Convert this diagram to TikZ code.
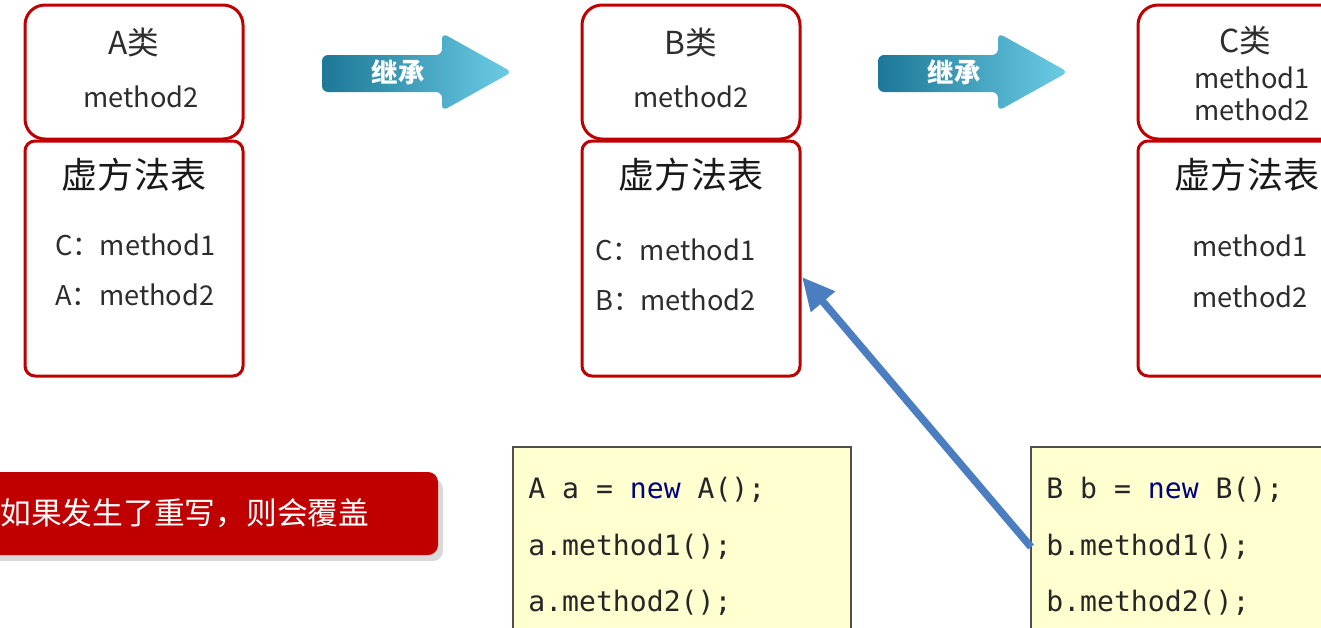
\documentclass[tikz,border=0pt]{standalone}
\usepackage{fontspec}
\setmainfont{Noto Sans CJK SC}
\newfontfamily\codefont{DejaVu Sans Mono}
\usetikzlibrary{arrows.meta}
\definecolor{boxred}{RGB}{190,0,0}
\definecolor{bannerred}{RGB}{192,0,0}
\definecolor{codebg}{RGB}{255,255,208}
\definecolor{codeframe}{RGB}{80,80,80}
\definecolor{kwblue}{RGB}{0,0,128}
\definecolor{callblue}{RGB}{74,126,193}
\definecolor{inhdark}{RGB}{28,120,150}
\definecolor{inhlight}{RGB}{108,204,230}
\definecolor{txtgray}{RGB}{45,45,45}
\begin{document}
\begin{tikzpicture}[x=0.2mm,y=-0.2mm,
  clsbox/.style={draw=boxred,line width=0.6mm,rounded corners=4mm,fill=white},
  tabbox/.style={draw=boxred,line width=0.6mm,rounded corners=2mm,fill=white},
  title/.style={font=\fontsize{18}{20}\selectfont,text=txtgray,inner sep=0pt},
  member/.style={font=\fontsize{15.5}{17}\selectfont,text=txtgray,inner sep=0pt},
  tabhead/.style={font=\fontsize{20.5}{22}\selectfont,text=black!90,inner sep=0pt},
  code/.style={font=\codefont\fontsize{16}{18}\selectfont,anchor=west,inner sep=0pt,text=black!85},
  codebox/.style={draw=codeframe,line width=0.4mm,fill=codebg},
  inhtext/.style={font=\bfseries\fontsize{15}{17}\selectfont,text=white,inner sep=0pt}]
  \useasboundingbox (0,0) rectangle (1321,627);

  % class boxes and their method tables
  \foreach \xl/\nm in {25/A, 582/B, 1138/C} {
    \draw[clsbox] (\xl,5) rectangle ++(218,134);
    \draw[tabbox] (\xl,141) rectangle ++(218,235);
    \node[tabhead] (tab\nm) at (\xl+109,175) {虚方法表};
  }
  \node[title] (clsA) at (134,42) {A类};
  \node[member] (clsAm2) at (141,97) {method2};
  \node[member,anchor=west] (tabA1) at (55,245) {C：method1};
  \node[member,anchor=west] (tabA2) at (55,295) {A：method2};

  \node[title] (clsB) at (691,42) {B类};
  \node[member] (clsBm2) at (691,97) {method2};
  \node[member,anchor=west] (tabB1) at (595,250) {C：method1};
  \node[member,anchor=west] (tabB2) at (595,300) {B：method2};

  \node[title] (clsC) at (1245,40) {C类};
  \node[member] (clsCm1) at (1252,78) {method1};
  \node[member] (clsCm2) at (1252,110) {method2};
  \node[member] (tabC1) at (1250,246) {method1};
  \node[member] (tabC2) at (1250,297) {method2};

  % inheritance arrows
  \foreach \xs/\nm in {322/AB, 878/BC} {
    \shade[left color=inhdark,right color=inhlight,rounded corners=1.2mm]
      (\xs,55) -- (\xs+120,55) -- (\xs+120,33) -- (\xs+190,72)
      -- (\xs+120,111) -- (\xs+120,92) -- (\xs,92) -- cycle;
    \node[inhtext] (inh\nm) at (\xs+76,72) {继承};
  }

  % note banner
  \fill[gray!30,rounded corners=2mm] (-20,479) rectangle (443,561);
  \fill[bannerred,rounded corners=2mm] (-20,472) rectangle (438,555);
  \node[font=\fontsize{17.5}{19}\selectfont,text=white,anchor=west,inner sep=0pt] (note) at (0,513) {如果发生了重写，则会覆盖};

  % code samples
  \draw[codebox] (513,447) rectangle (851,645);
  \draw[codebox] (1031,447) rectangle (1345,645);
  \node[code] (acode1) at (528,490) {A a = {\color{kwblue}new} A();};
  \node[code] (acode2) at (528,547) {a.method1();};
  \node[code] (acode3) at (528,603) {a.method2();};
  \node[code] (bcode1) at (1046,490) {B b = {\color{kwblue}new} B();};
  \node[code] (bcode2) at (1046,547) {b.method1();};
  \node[code] (bcode3) at (1046,603) {b.method2();};

  % call resolves to B's table
  \coordinate (hitB) at (802,277);
  \draw[callblue,line width=1.5mm,-{Triangle[length=6.5mm,width=6mm]}]
    ([xshift=-3mm]bcode2.west) -- (hitB);
\end{tikzpicture}
\end{document}
